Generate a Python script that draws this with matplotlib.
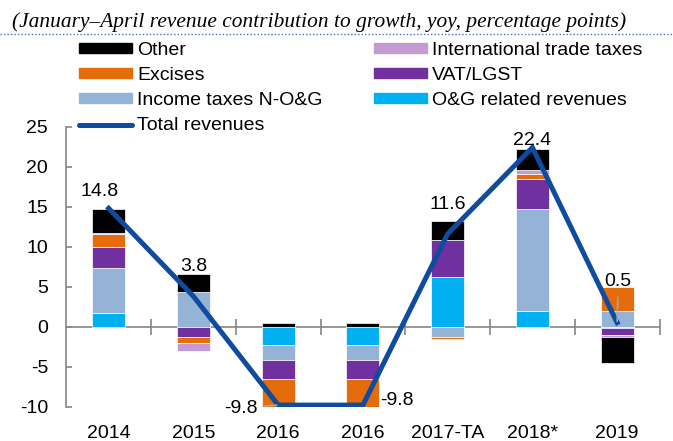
import numpy as np
import matplotlib
matplotlib.use("Agg")
import matplotlib.pyplot as plt
from matplotlib.lines import Line2D
from matplotlib.patches import Patch

# dati
years = ["2014", "2015", "2016", "2016", "2017-TA", "2018*", "2019"]
og_rev = [1.7, 0.0, -2.3, -2.3, 6.2, 2.0, -0.2]
income_nog = [5.6, 4.3, -1.9, -1.9, -1.3, 12.7, 1.9]
vat_lgst = [2.7, -1.25, -2.4, -2.4, 4.6, 3.8, -0.85]
excises = [1.55, -0.8, -3.6, -3.6, -0.3, 0.6, 3.05]
intl_trade = [0.2, -0.95, 0.0, 0.0, 0.0, 0.5, -0.25]
other = [3.0, 2.3, 0.45, 0.45, 2.35, 2.6, -3.2]
total = [14.8, 3.8, -9.8, -9.8, 11.6, 22.4, 0.5]
total_labels = ["14.8", "3.8", "-9.8", "-9.8", "11.6", "22.4", "0.5"]

title = "(January\u2013April revenue contribution to growth, yoy, percentage points)"

plt.rcParams["font.family"] = ["Liberation Sans", "DejaVu Sans"]
plt.rcParams["axes.unicode_minus"] = False

# serie in ordine di impilamento (dal basso)
series = [
    ("O&G related revenues", og_rev, "#00B0F0"),
    ("Income taxes N-O&G", income_nog, "#95B3D7"),
    ("VAT/LGST", vat_lgst, "#7030A0"),
    ("Excises", excises, "#E46C0A"),
    ("International trade taxes", intl_trade, "#C39BD3"),
    ("Other", other, "#000000"),
]
line_color = "#0F4C9F"
grey = "#868686"

fig = plt.figure(figsize=(6.73, 4.41), dpi=100)
ax = fig.add_axes([0.0985, 0.0778, 0.8815, 0.6349])

x = np.arange(len(years))
pos_bottom = np.zeros(len(years))
neg_bottom = np.zeros(len(years))
for name, vals, col in series:
    v = np.array(vals, dtype=float)
    bottom = np.where(v >= 0, pos_bottom, neg_bottom)
    ax.bar(x, v, width=0.39, bottom=bottom, color=col,
           edgecolor="white", linewidth=0.5, zorder=2)
    pos_bottom = pos_bottom + np.where(v >= 0, v, 0)
    neg_bottom = neg_bottom + np.where(v < 0, v, 0)

ax.plot(x, total, color=line_color, linewidth=3.6, solid_joinstyle="miter", zorder=4)

# etichette del totale (offset in pixel)
offsets = [(-9, 17, "center"), (0, 30, "center"), (-21, -3, "right"), (17, 5, "left"),
           (0, 29, "center"), (0, 7, "center"), (1, 41, "center")]
for i, (lab, (dx, dy, ha)) in enumerate(zip(total_labels, offsets)):
    arrow = None
    if i in (2, 6):
        arrow = dict(arrowstyle="-", color="#A6A6A6", lw=1.2, shrinkA=3, shrinkB=1)
    ax.annotate(lab, (x[i], total[i]), xytext=(dx, dy), textcoords="offset pixels",
                ha=ha, va="center", fontsize=14, zorder=6, arrowprops=arrow)

ax.set_xlim(-0.5, len(years) - 0.5)
ax.set_ylim(-10, 25)
ax.set_yticks(range(-10, 26, 5))
for s in ["top", "right", "bottom"]:
    ax.spines[s].set_visible(False)
ax.spines["left"].set_color(grey)
ax.spines["left"].set_linewidth(1.2)
ax.tick_params(axis="y", direction="in", length=4, width=1.2, color=grey,
               labelsize=14, pad=13)
ax.set_xticks(x)
ax.set_xticklabels(years)
ax.tick_params(axis="x", length=0, labelsize=14, pad=13)

# asse orizzontale sullo zero con tacche tra le categorie
zero_ax = ax.secondary_xaxis(10 / 35)
zero_ax.spines["bottom"].set_color(grey)
zero_ax.spines["bottom"].set_linewidth(1.2)
zero_ax.set_xticks(np.arange(0.5, len(years), 1.0))
zero_ax.tick_params(direction="inout", length=11, width=1.2, color=grey, labelbottom=False)

# titolo e riga punteggiata
fig.text(0.018, 0.95, title, fontsize=15.4, style="italic", family="Liberation Serif",
         ha="left", va="center")
fig.add_artist(Line2D([0, 1], [0.922, 0.922], transform=fig.transFigure,
                      color="#4472C4", linestyle=(0, (1, 1.5)), linewidth=1))

# legenda su due colonne
cols = {name: col for name, _, col in series}
left_names = ["Other", "Excises", "Income taxes N-O&G"]
right_names = ["International trade taxes", "VAT/LGST", "O&G related revenues"]
h1 = [Patch(color=cols[n]) for n in left_names] + [
    Line2D([0], [0], color=line_color, linewidth=3.6, solid_capstyle="round")]
l1 = left_names + ["Total revenues"]
h2 = [Patch(color=cols[n]) for n in right_names]

common = dict(frameon=False, fontsize=14, handlelength=2.7, handleheight=0.4,
              handletextpad=0.3, labelspacing=0.42, borderpad=0, borderaxespad=0,
              loc="upper left")
fig.legend(h1, l1, bbox_to_anchor=(79 / 673, 1 - 42 / 441), **common)
fig.legend(h2, right_names, bbox_to_anchor=(374 / 673, 1 - 42 / 441), **common)

fig.savefig("out.png", dpi=100, facecolor="white")
